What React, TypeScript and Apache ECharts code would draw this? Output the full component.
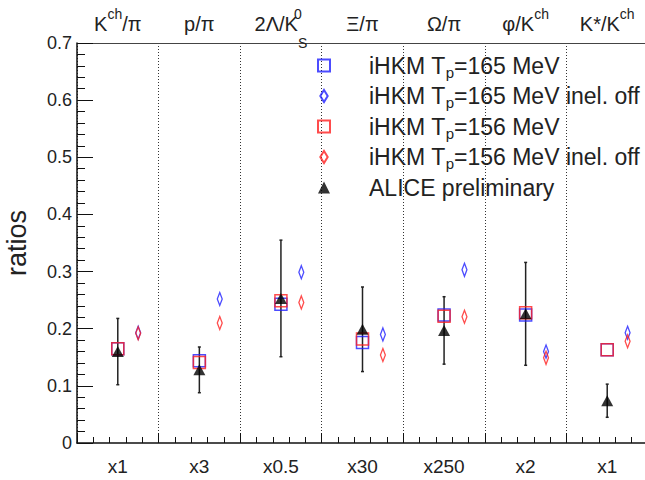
import React, { useEffect, useRef } from "react";
import * as echarts from "echarts";

const FONT = "'Liberation Sans', Arial, Helvetica, sans-serif";

// Particle ratio categories (top labels, rich-text markup)
const categories = ["Kch/π", "p/π", "2Λ/K0S", "Ξ/π", "Ω/π", "φ/Kch", "K*/Kch"];
const topLabels = [
  "{n|K}{sup|ch}{n|/π}",
  "{n|p/π}",
  "{n|2Λ/K}{supz|0}{sub|S}",
  "{n|Ξ/π}",
  "{n|Ω/π}",
  "{n|φ/K}{sup|ch}",
  "{n|K*/K}{sup|ch}",
];
// Scale factors (bottom labels)
const scaleFactors = ["x1", "x3", "x0.5", "x30", "x250", "x2", "x1"];

// Series values (scaled ratios)
const hkm165 = [0.165, 0.144, 0.243, 0.176, 0.224, 0.224, 0.163];
const hkm165Off = [0.193, 0.252, 0.299, 0.19, 0.303, 0.16, 0.193];
const hkm156 = [0.165, 0.141, 0.249, 0.182, 0.222, 0.228, 0.163];
const hkm156Off = [0.192, 0.21, 0.246, 0.154, 0.221, 0.149, 0.178];
const alice = [0.16, 0.128, 0.253, 0.199, 0.197, 0.226, 0.074];
const aliceErr = [0.058, 0.04, 0.102, 0.074, 0.059, 0.09, 0.029];

// Legend names
const names = [
  "iHKM Tp=165 MeV",
  "iHKM Tp=165 MeV inel. off",
  "iHKM Tp=156 MeV",
  "iHKM Tp=156 MeV inel. off",
  "ALICE preliminary",
];
const legendRich: Record<string, string> = {
  "iHKM Tp=165 MeV": "{g| }{n|iHKM T}{s|p}{n|=165 MeV}",
  "iHKM Tp=165 MeV inel. off": "{g| }{n|iHKM T}{s|p}{n|=165 MeV inel. off}",
  "iHKM Tp=156 MeV": "{g| }{n|iHKM T}{s|p}{n|=156 MeV}",
  "iHKM Tp=156 MeV inel. off": "{g| }{n|iHKM T}{s|p}{n|=156 MeV inel. off}",
  "ALICE preliminary": "{g| }{n|ALICE preliminary}",
};

const BLUE = "#1f1fff";
const RED = "#ff1f1f";
const DIAMOND = "path://M4,0L8,6.5L4,13L0,6.5Z";

const pts = (vals: number[], off: number) => vals.map((v, i) => [i + off, v]);

export default function App() {
  const ref = useRef<HTMLDivElement>(null);
  useEffect(() => {
    const chart = echarts.init(ref.current as HTMLDivElement, null, { renderer: "svg" });
    const hollow = (c: string) => ({ color: "rgba(0,0,0,0)", borderColor: c, borderWidth: 1.5 });
    const option: any = {
      animation: false,
      backgroundColor: "#fff",
      textStyle: { fontFamily: FONT },
      grid: { left: 77, right: -3, top: 43, bottom: 37, containLabel: false, outerBoundsMode: "none" },
      legend: {
        orient: "vertical",
        left: 317,
        top: 54,
        padding: 0,
        itemWidth: 12,
        itemHeight: 12,
        itemGap: 5,
        data: names,
        selectedMode: false,
        formatter: (n: string) => legendRich[n],
        textStyle: {
          color: "#222",
          fontFamily: FONT,
          rich: {
            g: { width: 34 },
            n: { fontSize: 23, color: "#222", fontFamily: FONT, lineHeight: 28 },
            s: { fontSize: 15, color: "#222", fontFamily: FONT, verticalAlign: "bottom", lineHeight: 14 },
          },
        },
      },
      xAxis: [
        {
          type: "value",
          min: 0,
          max: 7,
          interval: 1,
          position: "bottom",
          axisLine: { show: true, onZero: false, lineStyle: { color: "#111", width: 1.5 } },
          axisTick: { show: true, inside: true, length: 10, lineStyle: { color: "#111", width: 1 } },
          minorTick: { show: true, splitNumber: 5, length: 6, lineStyle: { color: "#111", width: 1 } },
          axisLabel: { show: false },
          splitLine: { show: true, lineStyle: { color: "#333", type: [1, 2], width: 1 } },
        },
        {
          type: "value",
          min: 0,
          max: 7,
          interval: 0.5,
          position: "bottom",
          axisLine: { show: false },
          axisTick: { show: false },
          splitLine: { show: false },
          axisLabel: {
            show: true,
            margin: 14,
            fontSize: 19,
            color: "#222",
            fontFamily: FONT,
            verticalAlign: "top",
            formatter: (v: number) => {
              const i = Math.floor(v);
              return Math.abs(v - i - 0.5) < 1e-6 && i < scaleFactors.length ? scaleFactors[i] : "";
            },
          },
        },
        {
          type: "value",
          min: 0,
          max: 7,
          interval: 0.5,
          position: "top",
          axisLine: { show: true, lineStyle: { color: "#444", width: 1 } },
          axisTick: { show: false },
          splitLine: { show: false },
          axisLabel: {
            show: true,
            margin: -7,
            verticalAlign: "bottom",
            formatter: (v: number) => {
              const i = Math.floor(v);
              return Math.abs(v - i - 0.5) < 1e-6 && i < topLabels.length ? topLabels[i] : "";
            },
            rich: {
              n: { fontSize: 20, color: "#222", fontFamily: FONT, lineHeight: 52 },
              sup: { fontSize: 14, color: "#222", fontFamily: FONT, lineHeight: 16, padding: [0, 0, 20, 0] },
              supz: { fontSize: 14, color: "#222", fontFamily: FONT, lineHeight: 16, padding: [0, 0, 20, 0], width: 0 },
              sub: { fontSize: 14, color: "#222", fontFamily: FONT, verticalAlign: "bottom", lineHeight: 14 },
            },
          },
        },
      ],
      yAxis: {
        type: "value",
        min: 0,
        max: 0.7,
        interval: 0.1,
        name: "ratios",
        nameLocation: "middle",
        nameGap: 47,
        nameRotate: 90,
        nameTextStyle: { fontSize: 27, color: "#222", fontFamily: FONT },
        axisLine: { show: true, lineStyle: { color: "#111", width: 1.5 } },
        axisTick: { show: true, inside: true, length: 16, lineStyle: { color: "#111", width: 1 } },
        minorTick: { show: true, splitNumber: 5, length: 8, lineStyle: { color: "#111", width: 1 } },
        splitLine: { show: false },
        axisLabel: {
          margin: 5,
          fontSize: 18,
          color: "#222",
          fontFamily: FONT,
          formatter: (v: number) => (v === 0 ? "0" : v.toFixed(1)),
        },
      },
      series: [
        {
          name: names[0],
          type: "scatter",
          symbol: "rect",
          symbolSize: 12,
          itemStyle: hollow(BLUE),
          data: pts(hkm165, 0.5),
        },
        {
          name: names[1],
          type: "scatter",
          symbol: DIAMOND,
          symbolKeepAspect: true,
          symbolSize: [8, 13],
          itemStyle: hollow(BLUE),
          data: pts(hkm165Off, 0.75),
        },
        {
          name: names[2],
          type: "scatter",
          symbol: "rect",
          symbolSize: 12,
          itemStyle: hollow(RED),
          data: pts(hkm156, 0.5),
        },
        {
          name: names[3],
          type: "scatter",
          symbol: DIAMOND,
          symbolKeepAspect: true,
          symbolSize: [8, 13],
          itemStyle: hollow(RED),
          data: pts(hkm156Off, 0.75),
        },
        {
          type: "custom",
          data: alice.map((v, i) => [i + 0.5, v, aliceErr[i]]),
          renderItem: (params: any, api: any) => {
            const x = api.value(0);
            const y = api.value(1);
            const e = api.value(2);
            const t = api.coord([x, y + e]);
            const b = api.coord([x, y - e]);
            const st = { stroke: "#222", lineWidth: 1.5 };
            return {
              type: "group",
              children: [
                { type: "line", shape: { x1: t[0], y1: t[1], x2: b[0], y2: b[1] }, style: st },
                { type: "line", shape: { x1: t[0] - 1.5, y1: t[1], x2: t[0] + 1.5, y2: t[1] }, style: st },
                { type: "line", shape: { x1: b[0] - 1.5, y1: b[1], x2: b[0] + 1.5, y2: b[1] }, style: st },
              ],
            };
          },
        },
        {
          name: names[4],
          type: "scatter",
          symbol: "triangle",
          symbolSize: [12, 11],
          itemStyle: { color: "#000" },
          data: pts(alice, 0.5),
        },
      ],
    };
    chart.setOption(option);
    return () => chart.dispose();
  }, []);
  return (
    <div
      ref={ref}
      style={{ position: "fixed", left: 0, top: 0, width: 645, height: 480, background: "#fff" }}
    />
  );
}
